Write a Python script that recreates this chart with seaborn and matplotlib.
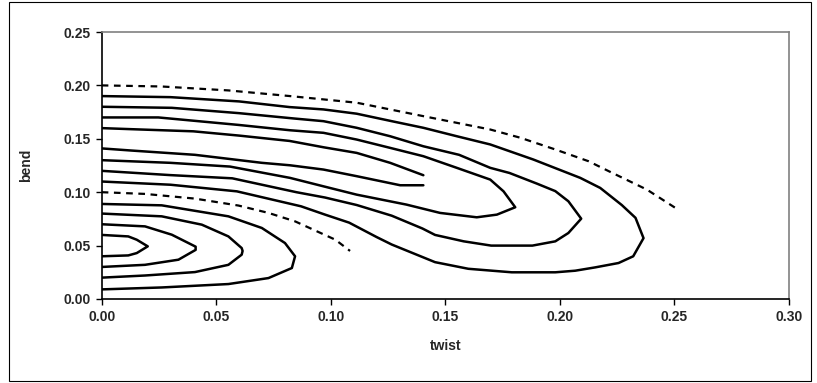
import numpy as np
import matplotlib
matplotlib.use("Agg")
import matplotlib.pyplot as plt
from matplotlib.patches import Rectangle
from matplotlib.ticker import FormatStrFormatter
import seaborn as sns

# contour lines, (twist, bend) pairs
# dashed upper contour
top_dash_twist = [0, 0.026, 0.0553, 0.0822, 0.1113, 0.1404, 0.1696, 0.1827, 0.198, 0.2125, 0.2214, 0.238, 0.2504]
top_dash_bend = [0.200, 0.199, 0.1953, 0.190, 0.1838, 0.1712, 0.1587, 0.151, 0.140, 0.129, 0.1196, 0.1024, 0.0853]

# outer loop (tip near 0.235)
loop1_twist = [0, 0.03, 0.06, 0.082, 0.0968, 0.1113, 0.1266, 0.1404, 0.155, 0.1696, 0.1884, 0.2089,
               0.2176, 0.227, 0.233, 0.2365, 0.232, 0.2256, 0.2154, 0.2067, 0.198, 0.179, 0.160,
               0.1455, 0.1266, 0.12, 0.108, 0.0975, 0.087, 0.059, 0.03, 0]
loop1_bend = [0.190, 0.189, 0.185, 0.1797, 0.1775, 0.1735, 0.1665, 0.1603, 0.1524, 0.1447, 0.1306, 0.1134,
              0.104, 0.088, 0.076, 0.057, 0.040, 0.0337, 0.0296, 0.0265, 0.025, 0.025, 0.0283,
              0.0345, 0.051, 0.058, 0.0715, 0.079, 0.0868, 0.1008, 0.107, 0.110]

# middle loop (tip near 0.21)
loop2_twist = [0, 0.0306, 0.06, 0.084, 0.0968, 0.1113, 0.1259, 0.1404, 0.156, 0.1696, 0.178, 0.19,
               0.198, 0.2037, 0.2093, 0.2037, 0.198, 0.188, 0.170, 0.158, 0.1455, 0.14, 0.1266,
               0.1113, 0.0975, 0.085, 0.057, 0.03, 0]
loop2_bend = [0.180, 0.179, 0.174, 0.169, 0.1665, 0.1603, 0.1524, 0.143, 0.135, 0.1228, 0.118, 0.108,
              0.101, 0.0915, 0.0752, 0.0618, 0.054, 0.050, 0.050, 0.054, 0.060, 0.066, 0.078,
              0.088, 0.095, 0.100, 0.113, 0.116, 0.120]

# inner loop (tip near 0.18)
loop3_twist = [0, 0.0247, 0.0597, 0.0822, 0.0968, 0.1113, 0.1259, 0.1404, 0.155, 0.1696, 0.1754, 0.1805,
               0.1725, 0.1637, 0.1477, 0.133, 0.1113, 0.0968, 0.0822, 0.056, 0.03, 0]
loop3_bend = [0.170, 0.170, 0.163, 0.158, 0.1556, 0.1493, 0.1415, 0.1337, 0.1228, 0.1118, 0.1008, 0.0859,
              0.079, 0.0765, 0.0806, 0.0884, 0.0977, 0.1055, 0.1134, 0.124, 0.1275, 0.130]

# open pair ending at twist 0.14
open_up_twist = [0, 0.013, 0.04, 0.06, 0.082, 0.097, 0.1113, 0.1259, 0.1404]
open_up_bend = [0.160, 0.159, 0.157, 0.153, 0.148, 0.142, 0.1368, 0.1275, 0.1159]
open_lo_twist = [0, 0.013, 0.0407, 0.0699, 0.0822, 0.0968, 0.1113, 0.1303, 0.1404]
open_lo_bend = [0.141, 0.139, 0.135, 0.1275, 0.1252, 0.1212, 0.115, 0.1065, 0.1065]

# dashed lower contour
low_dash_twist = [0, 0.0189, 0.0407, 0.0597, 0.0728, 0.0844, 0.102, 0.1084]
low_dash_bend = [0.100, 0.0984, 0.094, 0.0875, 0.0806, 0.0727, 0.0555, 0.045]

# lower loops, outermost first
loopd_twist = [0, 0.0262, 0.0553, 0.0699, 0.080, 0.0844, 0.083, 0.0728, 0.0553, 0.0262, 0]
loopd_bend = [0.089, 0.0877, 0.0774, 0.0665, 0.0524, 0.040, 0.029, 0.0196, 0.014, 0.0108, 0.009]
loopc_twist = [0, 0.0262, 0.0437, 0.0553, 0.0611, 0.0615, 0.0611, 0.0553, 0.0407, 0.0189, 0]
loopc_bend = [0.080, 0.0774, 0.0696, 0.0586, 0.0477, 0.045, 0.0415, 0.032, 0.0252, 0.022, 0.020]
loopb_twist = [0, 0.0189, 0.0306, 0.041, 0.041, 0.0335, 0.0189, 0]
loopb_bend = [0.070, 0.068, 0.0602, 0.049, 0.046, 0.0368, 0.032, 0.030]
loopa_twist = [0, 0.0116, 0.0153, 0.0201, 0.0153, 0.0116, 0]
loopa_bend = [0.060, 0.0586, 0.0555, 0.0493, 0.043, 0.0408, 0.040]

x_ticks = [0.00, 0.05, 0.10, 0.15, 0.20, 0.25, 0.30]
y_ticks = [0.00, 0.05, 0.10, 0.15, 0.20, 0.25]

sns.set_style("white")
plt.rcParams["font.family"] = ["Liberation Sans", "DejaVu Sans"]

fig = plt.figure(figsize=(8.17, 3.83), dpi=100)
ax = fig.add_axes([101.7 / 817, 1 - 299 / 383, (789 - 101.7) / 817, (299 - 32) / 383])

solid = [(loop1_twist, loop1_bend), (loop2_twist, loop2_bend), (loop3_twist, loop3_bend),
         (open_up_twist, open_up_bend), (open_lo_twist, open_lo_bend),
         (loopd_twist, loopd_bend), (loopc_twist, loopc_bend),
         (loopb_twist, loopb_bend), (loopa_twist, loopa_bend)]
dashed = [(top_dash_twist, top_dash_bend), (low_dash_twist, low_dash_bend)]

for tw, bd in solid:
    sns.lineplot(x=tw, y=bd, sort=False, estimator=None, color="black", lw=1.8, ax=ax)
for tw, bd in dashed:
    sns.lineplot(x=tw, y=bd, sort=False, estimator=None, color="black", lw=1.6,
                 linestyle=(0, (3, 2.5)), ax=ax)

ax.set_xlim(0, 0.30)
ax.set_ylim(0, 0.25)
ax.set_xticks(x_ticks)
ax.set_yticks(y_ticks)
ax.xaxis.set_major_formatter(FormatStrFormatter("%.2f"))
ax.yaxis.set_major_formatter(FormatStrFormatter("%.2f"))
ax.tick_params(direction="out", length=4, width=1, color="black", labelsize=10, pad=4,
               bottom=True, left=True)
for lab in ax.get_xticklabels() + ax.get_yticklabels():
    lab.set_fontweight("bold")

for side in ["left", "bottom"]:
    ax.spines[side].set_color("black")
    ax.spines[side].set_linewidth(1.2)
for side in ["top", "right"]:
    ax.spines[side].set_color("#808080")
    ax.spines[side].set_linewidth(1.2)

ax.set_xlabel("twist", fontsize=10, fontweight="bold")
ax.set_ylabel("bend", fontsize=10, fontweight="bold")
ax.xaxis.set_label_coords(0.5, -0.15)
ax.yaxis.set_label_coords(-0.1, 0.5)

# chart area border
fig.add_artist(Rectangle((9 / 817, 2 / 383), 802 / 817, 379 / 383, transform=fig.transFigure,
                         fill=False, lw=0.8, ec="black"))

fig.savefig("out.png", dpi=100)
